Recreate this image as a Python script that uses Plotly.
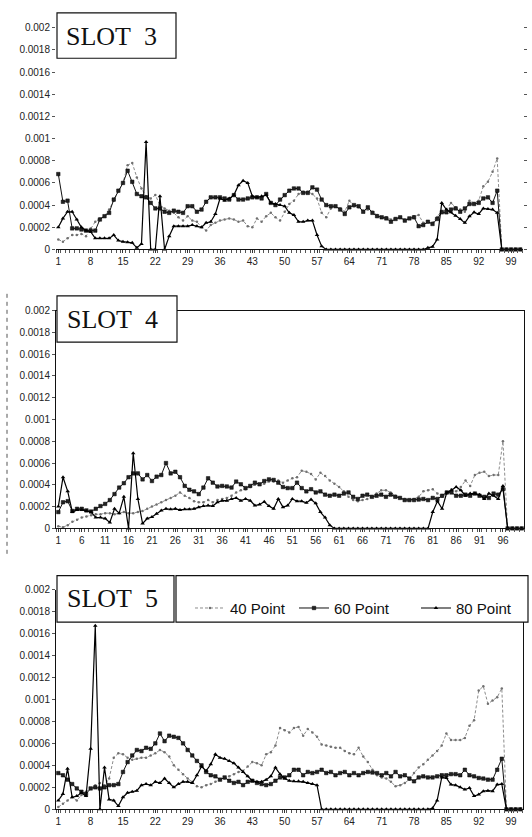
import plotly.graph_objects as go

W, H = 532, 837
SCALE = 1e-4

# ---------------- data (values in units of 1e-4) ----------------
slot3_40 = [0.9, 0.7, 1.0, 1.3, 1.3, 1.4, 1.2, 1.9, 2.5, 2.8,
            3.0, 3.6, 4.4, 5.3, 6.0, 7.6, 7.8, 6.5, 5.5, 4.8,
            4.6, 4.9, 4.0, 3.7, 3.5, 3.3, 2.9, 2.6, 3.0, 2.6,
            2.5, 2.0, 1.7, 2.2, 2.4, 2.6, 2.7, 2.8, 2.7, 2.5,
            2.6, 2.1, 2.0, 2.8, 2.5, 3.0, 3.3, 2.9, 2.6, 3.4,
            4.1, 4.4, 5.0, 5.2, 5.2, 5.0, 4.6, 3.3, 2.9, 3.7,
            3.9, 3.7, 3.4, 4.4, 3.9, 3.8, 3.5, 3.6, 3.4, 3.1,
            2.9, 2.9, 2.7, 2.8, 2.9, 2.7, 2.8, 3.0, 3.1, 2.4,
            2.5, 2.4, 2.9, 3.5, 3.6, 4.2, 3.8, 3.6, 3.4, 4.4,
            4.2, 4.4, 5.7, 6.1, 7.0, 8.2, 0, 0, 0, 0, 0]
slot3_60 = [6.8, 4.3, 4.4, 1.9, 1.9, 1.8, 1.7, 1.7, 1.7, 2.7,
            3.0, 3.3, 4.5, 5.3, 6.0, 7.1, 6.1, 5.0, 4.8, 4.7,
            4.2, 3.7, 3.7, 3.4, 3.3, 3.5, 3.4, 3.3, 3.9, 3.9,
            3.4, 3.6, 4.3, 4.7, 4.7, 4.7, 4.6, 4.5, 4.9, 4.5,
            4.5, 4.6, 4.7, 4.7, 4.6, 5.0, 4.2, 4.0, 4.5, 4.9,
            5.3, 5.5, 5.5, 5.1, 5.1, 5.6, 5.4, 4.5, 4.0, 3.9,
            3.9, 3.6, 3.2, 3.8, 4.0, 3.9, 3.4, 3.8, 3.3, 3.0,
            2.9, 2.8, 2.5, 2.75, 2.9, 2.6, 2.8, 2.9, 2.1, 2.2,
            2.5, 2.3, 2.75, 3.35, 3.35, 3.6, 3.7, 3.4, 3.7, 4.1,
            4.1, 4.2, 4.6, 4.7, 4.2, 5.3, 0, 0, 0, 0, 0]
slot3_80 = [2.0, 2.8, 3.4, 3.4, 2.7, 2.0, 1.7, 1.6, 1.0, 1.0,
            1.0, 1.0, 1.3, 0.8, 0.7, 0.65, 0.6, 0.15, 0.5, 9.7,
            0, 0, 4.8, 0, 1.2, 2.1, 2.1, 2.1, 2.1, 2.2,
            2.1, 2.0, 2.4, 2.5, 3.2, 4.6, 4.4, 4.6, 4.9, 5.8,
            6.2, 6.0, 4.8, 4.7, 4.8, 4.9, 4.2, 4.1, 4.0, 3.9,
            3.3, 3.1, 2.5, 2.5, 2.6, 2.6, 1.3, 0.3, 0, 0,
            0, 0, 0, 0, 0, 0, 0, 0, 0, 0,
            0, 0, 0, 0, 0, 0, 0, 0, 0, 0,
            0.15, 0.25, 0.9, 4.2, 3.6, 3.35, 3.05, 2.75, 2.4, 3.0,
            3.35, 3.2, 3.7, 3.65, 3.6, 3.3, 0, 0, 0, 0, 0]

slot4_40 = [0.2, 0.1, 0.3, 0.6, 0.8, 1.0, 1.1, 1.2, 1.3, 1.3,
            1.4, 1.4, 1.3, 1.4, 1.5, 1.4, 1.4, 1.5, 1.6, 1.8,
            2.0, 2.2, 2.4, 2.6, 2.8, 3.0, 3.3, 3.0, 2.8, 2.5,
            2.4, 2.4, 2.6, 2.4, 2.6, 2.7, 2.8, 3.0, 3.3, 3.5,
            3.6, 3.8, 4.0, 4.0, 4.1, 4.3, 4.3, 4.4, 4.2, 4.4,
            4.6, 4.7, 5.3, 5.2, 5.0, 4.5, 5.1, 4.8, 4.4, 4.1,
            3.8, 3.4, 2.9, 2.6, 2.5, 2.6, 2.7, 2.9, 3.2, 3.5,
            3.5, 3.3, 3.0, 2.8, 2.7, 2.6, 2.7, 2.9, 3.4, 3.5,
            3.6, 3.2, 2.9, 3.2, 3.6, 3.4, 3.8, 4.4, 3.9, 4.9,
            5.1, 5.2, 4.8, 4.9, 4.9, 8.0, 0, 0, 0, 0]
slot4_60 = [1.5, 2.4, 2.5, 1.6, 1.8, 1.8, 1.65, 1.55, 1.8, 2.05,
            2.25, 2.6, 3.15, 3.75, 4.15, 4.7, 5.05, 5.05, 4.5, 4.9,
            4.35, 4.75, 4.9, 6.0, 5.05, 5.2, 4.7, 3.9, 3.55, 3.4,
            3.15, 3.75, 4.6, 4.2, 3.85, 3.9, 3.85, 3.75, 4.3, 4.05,
            3.7, 3.9, 4.2, 4.05, 4.35, 4.5, 4.45, 4.2, 3.8, 3.7,
            3.7, 4.2, 3.7, 3.4, 3.6, 3.3, 3.4, 3.1, 3.0, 3.1,
            3.0, 3.2, 3.3, 2.9, 2.7, 3.0, 3.1, 2.9, 3.0, 3.1,
            2.9, 3.1, 2.9, 2.8, 2.6, 2.6, 2.6, 2.65, 2.7, 2.6,
            2.8, 2.7, 3.0, 3.3, 3.3, 3.0, 3.0, 3.1, 3.0, 3.2,
            3.0, 2.9, 2.8, 3.2, 3.1, 3.6, 0, 0, 0, 0]
slot4_80 = [2.0, 4.7, 3.4, 1.5, 1.7, 1.7, 1.6, 1.5, 1.0, 1.0,
            0.9, 0.55, 1.8, 1.4, 2.9, 0, 6.9, 2.7, 0.45, 0.9,
            1.05, 1.35, 1.65, 1.8, 1.75, 1.8, 1.7, 1.75, 1.75, 1.8,
            1.95, 2.05, 2.1, 2.05, 2.4, 2.55, 2.55, 2.7, 2.8, 2.55,
            2.7, 2.55, 2.1, 2.2, 2.45, 2.05, 1.8, 2.7, 1.95, 2.1,
            2.7, 2.5, 2.5, 2.35, 2.65, 2.3, 1.5, 1.0, 0.3, 0,
            0, 0, 0, 0, 0, 0, 0, 0, 0, 0,
            0, 0, 0, 0, 0, 0, 0, 0, 0, 0,
            1.5, 2.5, 1.8, 3.3, 3.5, 3.8, 3.5, 3.0, 3.2, 3.2,
            3.1, 2.7, 3.2, 3.0, 2.7, 3.9, 0, 0, 0, 0]

slot5_40 = [0.2, 0.5, 0.8, 1.1, 0.8, 1.3, 1.6, 1.9, 2.2, 2.4,
            2.2, 2.8, 4.7, 5.1, 5.0, 4.7, 4.5, 4.6, 4.7, 4.7,
            4.9, 5.1, 5.4, 5.2, 4.8, 4.0, 3.6, 3.2, 2.8, 2.5,
            2.1, 2.0, 2.2, 2.3, 2.5, 2.7, 2.8, 3.0, 3.2, 3.4,
            3.5, 3.9, 4.3, 4.2, 4.0, 5.0, 5.2, 5.8, 7.4, 7.2,
            7.0, 7.4, 7.5, 6.7, 7.3, 7.0, 6.6, 5.9, 5.8, 5.7,
            5.6, 5.6, 5.3, 5.1, 5.0, 5.6, 4.8, 4.3, 3.6, 3.1,
            2.9, 2.8, 2.5, 2.1, 2.2, 2.4, 2.7, 3.3, 3.8, 4.1,
            4.5, 4.9, 5.3, 5.8, 6.9, 6.3, 6.3, 6.3, 6.5, 7.6,
            8.1, 10.8, 11.2, 9.6, 9.9, 10.2, 11.0, 0, 0, 0, 0]
slot5_60 = [3.3, 3.1, 2.7, 2.3, 1.9, 1.6, 1.4, 1.9, 2.0, 1.9,
            2.0, 2.2, 2.2, 2.3, 3.4, 4.3, 4.9, 5.4, 5.3, 5.6,
            5.5, 6.0, 6.9, 6.2, 6.7, 6.6, 6.5, 6.0, 5.4, 4.9,
            4.4, 4.0, 3.4, 3.1, 3.0, 2.7, 2.9, 2.6, 2.4, 2.5,
            2.2, 2.5, 2.6, 2.4, 2.3, 2.2, 2.3, 2.6, 2.9, 2.9,
            3.1, 3.6, 3.6, 3.1, 3.4, 3.3, 3.4, 3.6, 3.3, 3.4,
            3.1, 3.3, 3.4, 3.1, 3.3, 3.1, 3.3, 3.4, 3.35, 3.3,
            3.1, 3.3, 3.0, 3.4, 3.0, 3.1, 2.8, 2.55, 2.9, 3.0,
            2.9, 2.9, 3.0, 3.1, 3.1, 3.2, 3.2, 3.1, 3.6, 3.1,
            3.0, 2.85, 2.8, 2.7, 2.7, 3.6, 4.6, 0, 0, 0, 0]
slot5_80 = [0.8, 1.4, 3.7, 1.1, 1.2, 1.5, 1.2, 5.5, 16.7, 0,
            3.8, 0.9, 0.8, 0.3, 1.1, 1.5, 1.6, 1.7, 2.2, 2.3,
            2.2, 2.5, 2.4, 2.8, 2.4, 2.0, 2.3, 2.5, 2.5, 2.4,
            3.1, 3.9, 3.5, 4.1, 5.0, 4.7, 4.6, 4.4, 4.2, 3.8,
            3.4, 3.0, 2.6, 2.5, 2.5, 2.7, 3.0, 3.8, 3.2, 2.8,
            2.6, 2.55, 2.55, 2.5, 2.4, 2.3, 2.2, 0, 0, 0,
            0, 0, 0, 0, 0, 0, 0, 0, 0, 0,
            0, 0, 0, 0, 0, 0, 0, 0, 0, 0,
            0, 0.1, 0.8, 2.9, 2.85, 2.25, 2.2, 2.0, 1.8, 1.95,
            1.2, 1.35, 1.65, 1.7, 1.65, 2.25, 2.3, 0, 0, 0, 0]

series_names = ["40 Point", "60 Point", "80 Point"]
panel_titles = ["SLOT 3", "SLOT 4", "SLOT 5"]
x_ticks_a = list(range(1, 100, 7))   # 1, 8, ..., 99
x_ticks_b = list(range(1, 97, 5))    # 1, 6, ..., 96
y_tickvals = [0, 0.0002, 0.0004, 0.0006, 0.0008, 0.001, 0.0012, 0.0014, 0.0016, 0.0018, 0.002]
y_ticktext = ["0", "0.0002", "0.0004", "0.0006", "0.0008", "0.001",
              "0.0012", "0.0014", "0.0016", "0.0018", "0.002"]

panels = [
    (slot3_40, slot3_60, slot3_80, x_ticks_a),
    (slot4_40, slot4_60, slot4_80, x_ticks_b),
    (slot5_40, slot5_60, slot5_80, x_ticks_a),
]

# ---------------- layout geometry (pixels) ----------------
def px_x(x):
    return x / W

def px_y(y):
    return 1 - y / H

# (left, right, top(0.002), bottom(0))
geom = [(56, 522.6, 22, 247), (56, 524, 309, 530), (56, 522.6, 592, 815)]
boxes = [(57, 176, 7, 53), (57, 177, 294, 341), (57, 174, 578, 625)]
label_pos = [(111, 31), (112, 318), (112, 601)]
legend_x = [190, 294, 416]
legend_ids = ["legend", "legend2", "legend3"]

styles = [
    dict(mode="lines+markers", line=dict(color="#8c8c8c", width=1, dash="3px,2px"),
         marker=dict(symbol="circle", size=2.5, color="#707070")),
    dict(mode="lines+markers", line=dict(color="#111", width=1),
         marker=dict(symbol="square", size=3.5, color="#222", line=dict(color="#000", width=0.5))),
    dict(mode="lines+markers", line=dict(color="#000", width=1.2),
         marker=dict(symbol="triangle-up", size=4, color="#000")),
]

fig = go.Figure()
tick_font = dict(family="Liberation Sans, Arial, sans-serif", size=10, color="#222")

for p, (s40, s60, s80, xt) in enumerate(panels):
    n = len(s60)
    xs = list(range(1, n + 1))
    sfx = "" if p == 0 else str(p + 1)
    for k, s in enumerate((s40, s60, s80)):
        fig.add_trace(go.Scatter(
            x=xs, y=[v * SCALE for v in s], name=series_names[k],
            xaxis="x" + sfx, yaxis="y" + sfx, cliponaxis=False,
            showlegend=(p == 2), legend=legend_ids[k], **styles[k]))
    l, r, t, b = geom[p]
    framed = p > 0
    fig.layout["xaxis" + sfx] = dict(
        domain=[px_x(l), px_x(r)], range=[0.5, n + 0.5], anchor="y" + sfx,
        tickmode="array", tickvals=xt, ticktext=[str(v) for v in xt],
        ticks="outside", ticklen=3, tickcolor="#333", tickfont=tick_font,
        showline=True, linecolor="#111", linewidth=1, mirror=(p == 1),
        showgrid=False, zeroline=False,
        minor=dict(tickmode="linear", tick0=0.5, dtick=1, ticks="outside",
                   ticklen=3, tickcolor="#555", showgrid=False))
    fig.layout["yaxis" + sfx] = dict(
        domain=[px_y(b), px_y(t)], range=[0, 0.002], anchor="x" + sfx,
        tickmode="array", tickvals=y_tickvals, ticktext=y_ticktext,
        ticks="outside", ticklen=3, tickcolor="#555", tickfont=tick_font,
        showline=framed, linecolor="#111", linewidth=1,
        mirror=(True if framed else "ticks"),
        showgrid=False, zeroline=False)

shapes = []
annotations = []
for p, (x0, x1, y0, y1) in enumerate(boxes):
    shapes.append(dict(type="rect", xref="paper", yref="paper", layer="above",
                       x0=px_x(x0), x1=px_x(x1), y0=px_y(y1), y1=px_y(y0),
                       fillcolor="white", line=dict(color="#111", width=1.2)))
    cx, cy = label_pos[p]
    annotations.append(dict(xref="paper", yref="paper", x=px_x(cx), y=px_y(cy),
                            xanchor="center", yanchor="middle", showarrow=False,
                            text=panel_titles[p].replace(" ", "\u00a0\u00a0"),
                            font=dict(family="Liberation Serif, Times New Roman, serif",
                                      size=26, color="#111")))
# legend box
shapes.append(dict(type="rect", xref="paper", yref="paper", layer="above",
                   x0=px_x(176), x1=px_x(528), y0=px_y(625), y1=px_y(578),
                   fillcolor="white", line=dict(color="#111", width=1.2)))
# scanned dashed margin line near panel 2
shapes.append(dict(type="line", xref="paper", yref="paper",
                   x0=px_x(7), x1=px_x(7), y0=px_y(292), y1=px_y(558),
                   line=dict(color="#555", width=1, dash="4px,4px")))

legend_font = dict(family="Liberation Sans Narrow, Arial Narrow, Liberation Sans, sans-serif",
                   size=15, color="#111")
legend_layout = {}
for k, lid in enumerate(legend_ids):
    legend_layout[lid] = dict(orientation="h", x=px_x(legend_x[k]), y=px_y(611),
                              xanchor="left", yanchor="middle",
                              bgcolor="rgba(0,0,0,0)", font=legend_font, itemwidth=30)

fig.update_layout(
    width=W, height=H, margin=dict(l=0, r=0, t=0, b=0),
    paper_bgcolor="white", plot_bgcolor="white",
    shapes=shapes, annotations=annotations, **legend_layout,
)

fig.write_html("out.html")
